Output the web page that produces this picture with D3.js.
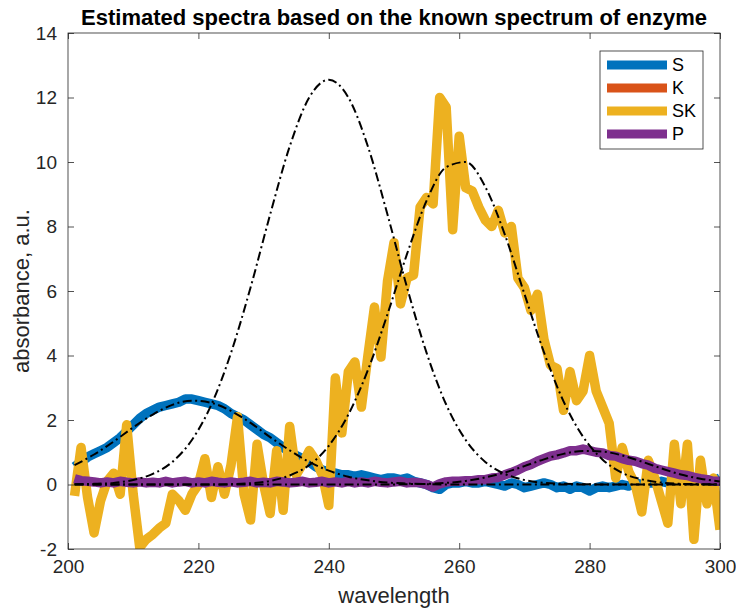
<!DOCTYPE html>
<html><head><meta charset="utf-8">
<script src="https://cdn.jsdelivr.net/npm/d3@7"></script>
<style>body{margin:0;background:#fff} svg{display:block}</style>
</head><body>
<svg id="c" width="736" height="609"></svg>
<script>
// ---- data ----
const waveStart = 201, waveEnd = 300;           // estimated spectra sampled every 1 nm
const refStart = 201, refEnd = 300, refStepNm = 3; // known/reference spectra sample grid

const seriesNames = ["S", "K", "SK", "P"];
const seriesColors = ["#0072BD", "#D95319", "#EDB120", "#7E2F8E"];

const sValues = [0.55,0.7,0.85,0.95,1.05,1.15,1.3,1.45,1.65,1.85,
 2.05,2.2,2.3,2.4,2.45,2.5,2.55,2.65,2.65,2.6,
 2.55,2.5,2.45,2.35,2.2,2.1,2.0,1.85,1.7,1.55,
 1.45,1.3,1.15,1.0,0.9,0.8,0.7,0.55,0.45,0.4,
 0.35,0.3,0.3,0.25,0.3,0.25,0.2,0.15,0.2,0.2,
 0.15,0.2,0.1,0.05,0.0,-0.1,-0.15,0.0,0.05,0.05,
 0.1,0.05,0.05,0.1,0.05,0.0,-0.05,0.05,0.0,-0.1,
 -0.05,0.0,0.05,0.0,-0.1,-0.05,-0.15,-0.05,-0.1,-0.2,
 -0.1,-0.05,-0.1,-0.05,0.0,-0.05,0.05,0.0,0.05,0.05,
 0.1,0.05,0.1,0.1,0.05,0.1,0.15,0.15,0.1,0.2];
const kValues = []; // K estimate is not visible in the picture (legend entry only)
const skValues = [-0.35,1.15,-0.4,-1.5,-0.5,0.1,0.35,-0.3,1.85,-0.3,
 -1.95,-1.7,-1.55,-1.35,-1.2,-0.3,-0.5,-0.8,-0.3,0.0,
 0.8,-0.4,0.55,-0.3,0.6,2.1,-0.3,-1.1,1.25,0.0,
 -0.9,1.05,-0.8,1.8,0.3,0.65,1.05,0.75,0.3,-0.65,
 3.3,1.6,3.5,3.8,2.4,4.0,5.5,3.95,6.3,7.5,
 5.6,6.4,6.5,8.6,8.9,8.7,12.0,11.7,7.9,10.8,
 9.2,9.1,8.6,8.2,8.0,8.5,7.8,8.0,6.4,6.1,
 5.4,5.9,4.5,3.7,3.6,2.3,3.5,2.6,2.9,4.0,
 2.9,2.4,1.9,0.2,1.15,0.4,0.0,-0.85,0.75,0.2,
 -0.5,-1.2,1.25,-0.6,1.25,-1.7,0.75,-0.6,0.2,-1.4];
const pValues = [0.18,0.12,0.1,0.08,0.05,0.08,0.05,0.1,0.07,0.05,
 0.08,0.05,0.07,0.05,0.1,0.05,0.08,0.1,0.05,0.08,
 0.05,0.1,0.07,0.05,0.08,0.05,0.07,0.1,0.05,0.07,
 0.05,0.1,0.08,0.05,0.07,0.1,0.05,0.07,0.1,0.05,
 0.08,0.05,0.1,0.05,0.08,0.05,0.1,0.07,0.05,0.08,
 0.1,0.05,0.07,0.05,0.0,-0.08,0.02,0.08,0.1,0.1,
 0.12,0.12,0.15,0.15,0.2,0.22,0.3,0.37,0.45,0.55,
 0.62,0.72,0.8,0.88,0.92,0.98,1.05,1.05,1.1,1.05,
 1.0,0.98,0.9,0.88,0.8,0.75,0.72,0.65,0.6,0.5,
 0.45,0.4,0.35,0.3,0.28,0.22,0.18,0.15,0.1,0.1];

// known spectra (dash-dot), one value every 3 nm from 201 to 300
const sRef = [0.60,0.93,1.33,1.77,2.17,2.47,2.60,2.53,2.28,1.91,1.47,1.06,0.70,0.43,0.24,0.13,0.06,0.03,0.01,0,0,0,0,0,0,0,0,0,0,0,0,0,0,0];
const kRef = [0.01,0.02,0.05,0.14,0.33,0.70,1.38,2.48,4.08,6.11,8.37,10.48,12.00,12.55,12.00,10.48,8.37,6.11,4.08,2.48,1.38,0.70,0.33,0.14,0.05,0.02,0.01,0,0,0,0,0,0,0];
const skRef = [0,0,0,0,0,0,0,0,0.01,0.04,0.11,0.28,0.60,1.20,2.17,3.55,5.28,7.15,8.80,9.84,10.00,9.23,7.75,5.91,4.10,2.58,1.48,0.77,0.36,0.16,0.06,0.02,0.01,0];
const pRef = [0,0,0,0,0,0,0,0,0,0,0,0,0,0,0,0,0,0.01,0.02,0.05,0.11,0.22,0.37,0.57,0.78,0.95,1.04,1.02,0.90,0.71,0.50,0.31,0.18,0.09];

const xTicks = [200, 220, 240, 260, 280, 300];
const yTicks = [-2, 0, 2, 4, 6, 8, 10, 12, 14];
const titleText = "Estimated spectra based on the known spectrum of enzyme";
const xLabel = "wavelength";
const yLabel = "absorbance, a.u.";

// ---- drawing ----
const font = "'Liberation Sans', Arial, Helvetica, sans-serif";
const axisColor = "#262626";
const L = 68, R = 720, T = 33, B = 549;
const svg = d3.select("#c");
const x = d3.scaleLinear().domain([200, 300]).range([L, R]);
const y = d3.scaleLinear().domain([-2, 14]).range([B, T]);

const waves = d3.range(waveStart, waveEnd + 1);
const refWaves = d3.range(refStart, refEnd + 1, refStepNm);

svg.append("defs").append("clipPath").attr("id", "clip")
  .append("rect").attr("x", L).attr("y", T).attr("width", R - L).attr("height", B - T);

const plot = svg.append("g").attr("clip-path", "url(#clip)");
const line = d3.line().x(d => x(d[0])).y(d => y(d[1]));
const estimates = [sValues, kValues, skValues, pValues];
estimates.forEach((vals, i) => {
  if (!vals.length) return;
  plot.append("path")
    .datum(vals.map((v, j) => [waves[j], v]))
    .attr("d", line)
    .attr("fill", "none")
    .attr("stroke", seriesColors[i])
    .attr("stroke-width", 9.5)
    .attr("stroke-linejoin", "round")
    .attr("stroke-linecap", "butt");
});
const refLine = d3.line().x(d => x(d[0])).y(d => y(d[1])).curve(d3.curveMonotoneX);
[sRef, kRef, skRef, pRef].forEach(vals => {
  plot.append("path")
    .datum(vals.map((v, j) => [refWaves[j], v]))
    .attr("d", refLine)
    .attr("fill", "none")
    .attr("stroke", "#000")
    .attr("stroke-width", 2)
    .attr("stroke-dasharray", "9,3.5,2,3.5");
});

// axes
function styleAxis(g, labels) {
  g.select(".domain").remove();
  g.selectAll(".tick line").attr("stroke", axisColor).attr("stroke-width", 0.8);
  g.selectAll(".tick text").attr("fill", axisColor).style("font-family", font).style("font-size", "19px");
  if (!labels) g.selectAll(".tick text").remove();
}
svg.append("g").attr("transform", `translate(0,${B})`)
  .call(d3.axisBottom(x).tickValues(xTicks).tickFormat(d3.format("d")).tickSize(-6).tickPadding(11))
  .call(g => styleAxis(g, true));
svg.append("g").attr("transform", `translate(0,${T})`)
  .call(d3.axisTop(x).tickValues(xTicks).tickSize(-6))
  .call(g => styleAxis(g, false));
svg.append("g").attr("transform", `translate(${L},0)`)
  .call(d3.axisLeft(y).tickValues(yTicks).tickFormat(d => String(d)).tickSize(-6).tickPadding(11))
  .call(g => styleAxis(g, true));
svg.append("g").attr("transform", `translate(${R},0)`)
  .call(d3.axisRight(y).tickValues(yTicks).tickSize(-6))
  .call(g => styleAxis(g, false));
svg.append("rect").attr("x", L).attr("y", T).attr("width", R - L).attr("height", B - T)
  .attr("fill", "none").attr("stroke", axisColor).attr("stroke-width", 0.8);

// labels
svg.append("text").attr("x", (L + R) / 2).attr("y", 25).attr("text-anchor", "middle")
  .style("font-family", font).style("font-size", "22px").style("font-weight", "bold")
  .attr("fill", "#000").text(titleText);
svg.append("text").attr("x", (L + R) / 2).attr("y", 603).attr("text-anchor", "middle")
  .style("font-family", font).style("font-size", "22px").attr("fill", axisColor).text(xLabel);
svg.append("text").attr("transform", `translate(29,${(T + B) / 2}) rotate(-90)`).attr("text-anchor", "middle")
  .style("font-family", font).style("font-size", "22px").attr("fill", axisColor).text(yLabel);

// legend
const lg = svg.append("g");
lg.append("rect").attr("x", 600).attr("y", 51).attr("width", 103).attr("height", 98)
  .attr("fill", "#fff").attr("stroke", axisColor).attr("stroke-width", 0.8);
seriesNames.forEach((n, i) => {
  const yy = 65 + i * 23;
  lg.append("line").attr("x1", 607).attr("x2", 667).attr("y1", yy).attr("y2", yy)
    .attr("stroke", seriesColors[i]).attr("stroke-width", 9);
  lg.append("text").attr("x", 672).attr("y", yy).attr("dy", "0.35em")
    .style("font-family", font).style("font-size", "18px").attr("fill", "#000").text(n);
});
</script>
</body></html>
